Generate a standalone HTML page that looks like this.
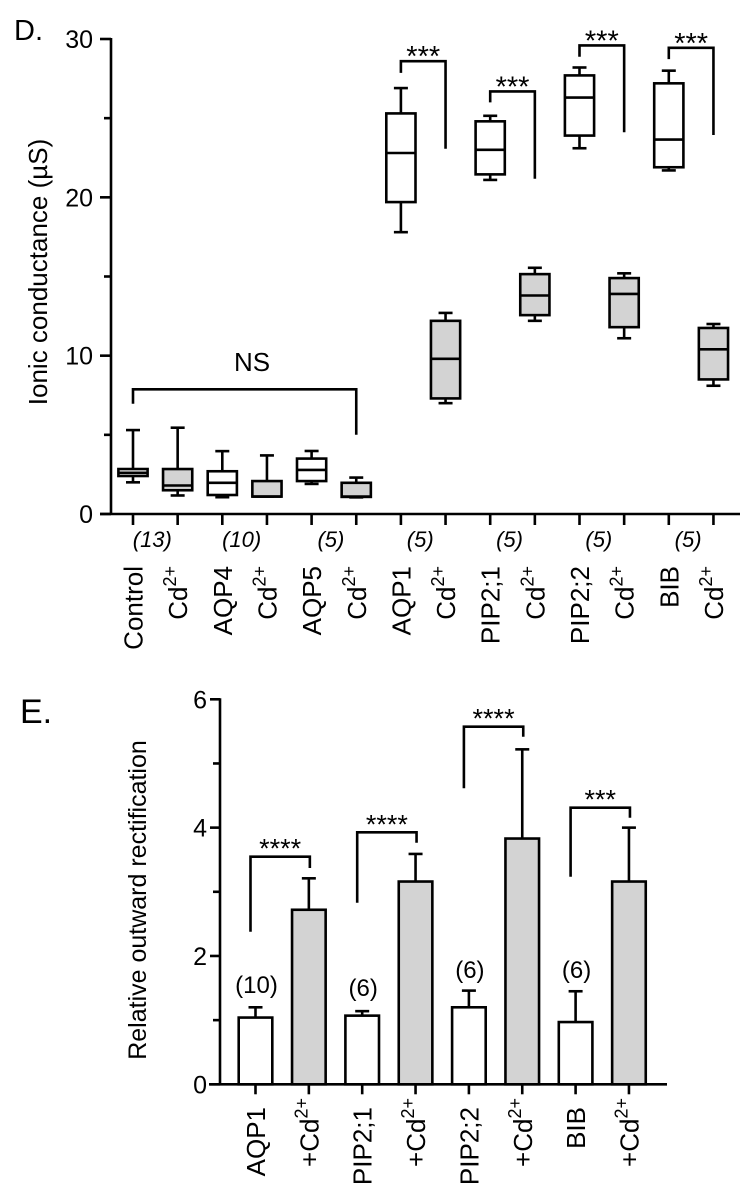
<!DOCTYPE html>
<html><head><meta charset="utf-8">
<style>
html,body{margin:0;padding:0;background:#fff;}
svg{display:block;font-family:"Liberation Sans",Arial,sans-serif;}
</style></head>
<body>
<svg id="fig" width="751" height="1197" viewBox="0 0 751 1197" xmlns="http://www.w3.org/2000/svg">
<g id="panelD"></g>
<g id="panelE"></g>
</svg>
<script>
// ---- Panel D data ----
const dCategories = ["Control","Cd2+","AQP4","Cd2+","AQP5","Cd2+","AQP1","Cd2+","PIP2;1","Cd2+","PIP2;2","Cd2+","BIB","Cd2+"];
const dWhiskerLow = [2.0,1.17,1.06,1.1,1.9,1.05,17.8,7.0,21.1,12.2,23.1,11.1,21.7,8.1];
const dQ1 =        [2.4,1.5,1.2,1.1,2.08,1.08,19.7,7.3,21.45,12.56,23.9,11.8,21.9,8.5];
const dMedian =    [2.6,1.8,1.97,1.1,2.78,1.1,22.8,9.8,23.0,13.8,26.3,13.9,23.65,10.4];
const dQ3 =        [2.84,2.84,2.7,2.08,3.5,1.97,25.3,12.2,24.8,15.15,27.7,14.9,27.2,11.75];
const dWhiskerHigh=[5.3,5.45,3.97,3.7,3.98,2.3,26.9,12.7,25.15,15.55,28.2,15.2,28.0,12.0];
const dFilled =    [0,1,0,1,0,1,0,1,0,1,0,1,0,1];
const dNLabels = ["(13)","(10)","(5)","(5)","(5)","(5)","(5)"];
const dYTicks = [0,10,20,30];
const dYMinor = [5,15,25];
// ---- Panel E data ----
const eCategories = ["AQP1","+Cd2+","PIP2;1","+Cd2+","PIP2;2","+Cd2+","BIB","+Cd2+"];
const eMeans = [1.04,2.72,1.07,3.16,1.2,3.83,0.97,3.16];
const eErrTop = [1.2,3.21,1.14,3.59,1.46,5.22,1.45,4.0];
const eFilled = [0,1,0,1,0,1,0,1];
const eNLabels = ["(10)","(6)","(6)","(6)"];
const eYTicks = [0,2,4,6];
const eYMinor = [1,3,5];
const eSig = ["****","****","****","***"];

const NS="http://www.w3.org/2000/svg";
function mk(parent,tag,attrs,text){const e=document.createElementNS(NS,tag);for(const k in attrs)e.setAttribute(k,attrs[k]);if(text!==undefined)e.textContent=text;parent.appendChild(e);return e;}
const LW=2.6;

// ===== Panel D =====
const D=document.getElementById('panelD');
const dY0=514, dY30=39;
function dy(v){return dY0+(dY30-dY0)*v/30;}
function dx(i){return 133+44.65*i;}
let t;
t=mk(D,'text',{x:14,y:40,'font-size':29},'D.');


let ax=mk(D,'line',{x1:111,y1:dY30-1,x2:111,y2:dY0,stroke:'#000','stroke-width':LW});


ax=mk(D,'line',{x1:100,y1:dY0,x2:740,y2:dY0,stroke:'#000','stroke-width':LW});


dYTicks.forEach(v=>{
  mk(D,'line',{x1:100,y1:dy(v),x2:111,y2:dy(v),stroke:'#000','stroke-width':LW});
  t=mk(D,'text',{x:93,y:dy(v)+9,'font-size':25,'text-anchor':'end'},String(v));
  
  
});
dYMinor.forEach(v=>{mk(D,'line',{x1:104,y1:dy(v),x2:111,y2:dy(v),stroke:'#000','stroke-width':LW});});
t=mk(D,'text',{x:0,y:0,'font-size':26,'text-anchor':'middle',transform:'translate(47,272) rotate(-90)'},'Ionic conductance (\u00b5S)');


dCategories.forEach((c,i)=>{
  const x=dx(i), hw=14.6;
  mk(D,'line',{x1:x,y1:dY0,x2:x,y2:dY0+11,stroke:'#000','stroke-width':LW});
  const g=mk(D,'g',{});
  
  
  mk(g,'line',{x1:x,y1:dy(dWhiskerHigh[i]),x2:x,y2:dy(dWhiskerLow[i]),stroke:'#000','stroke-width':LW});
  mk(g,'line',{x1:x-7,y1:dy(dWhiskerHigh[i]),x2:x+7,y2:dy(dWhiskerHigh[i]),stroke:'#000','stroke-width':LW});
  mk(g,'line',{x1:x-7,y1:dy(dWhiskerLow[i]),x2:x+7,y2:dy(dWhiskerLow[i]),stroke:'#000','stroke-width':LW});
  mk(g,'rect',{x:x-hw,y:dy(dQ3[i]),width:2*hw,height:Math.max(dy(dQ1[i])-dy(dQ3[i]),1),fill:dFilled[i]?'#d3d3d3':'#fff',stroke:'#000','stroke-width':LW});
  mk(g,'line',{x1:x-hw,y1:dy(dMedian[i]),x2:x+hw,y2:dy(dMedian[i]),stroke:'#000','stroke-width':LW});
  const lb=mk(D,'text',{'font-size':26,'text-anchor':'end',transform:'translate('+(x+9.5)+',566) rotate(-90)'});
  
  
  if(c.indexOf('Cd2+')>=0){
    mk(lb,'tspan',{},c.replace('2+',''));
    mk(lb,'tspan',{dy:-11,'font-size':18},'2+');
  } else lb.textContent=c;
});
dNLabels.forEach((n,k)=>{
  const x=(dx(2*k)+dx(2*k+1))/2-3;
  t=mk(D,'text',{x:x,y:547,'font-size':22,'font-style':'italic','text-anchor':'middle'},n);
  
  
});
let p=mk(D,'path',{d:'M'+dx(0)+' 403.8 V389.3 H'+dx(5)+' V434.7',fill:'none',stroke:'#000','stroke-width':LW});


t=mk(D,'text',{x:252,y:371,'font-size':26,'text-anchor':'middle'},'NS');


const dBr=[[61.2,72.9,148.8],[91.4,102.4,178.7],[45.4,56.7,132.3],[47.8,59.1,135]];
dBr.forEach((b,k)=>{
  const x1=dx(6+2*k), x2=dx(7+2*k);
  p=mk(D,'path',{d:'M'+x1+' '+b[1]+' V'+b[0]+' H'+x2+' V'+b[2],fill:'none',stroke:'#000','stroke-width':LW});
  
  
  t=mk(D,'text',{x:(x1+x2)/2,y:b[0]+5,'font-size':29,'text-anchor':'middle'},'***');
  
  
});

// ===== Panel E =====
const E=document.getElementById('panelE');
const eY0=1084.3, eY6=699.3;
function ey(v){return eY0+(eY6-eY0)*v/6;}
function ex(i){return 255.5+53.35*i;}
t=mk(E,'text',{x:20,y:723,'font-size':34},'E.');


ax=mk(E,'line',{x1:220,y1:eY6-1,x2:220,y2:eY0,stroke:'#000','stroke-width':LW});


ax=mk(E,'line',{x1:209,y1:eY0,x2:667,y2:eY0,stroke:'#000','stroke-width':LW});


eYTicks.forEach(v=>{
  mk(E,'line',{x1:210,y1:ey(v),x2:220,y2:ey(v),stroke:'#000','stroke-width':LW});
  t=mk(E,'text',{x:207,y:ey(v)+9,'font-size':25,'text-anchor':'end'},String(v));
  
  
});
eYMinor.forEach(v=>{mk(E,'line',{x1:213,y1:ey(v),x2:220,y2:ey(v),stroke:'#000','stroke-width':LW});});
t=mk(E,'text',{x:0,y:0,'font-size':25,'text-anchor':'middle',transform:'translate(146,900) rotate(-90)'},'Relative outward rectification');


eCategories.forEach((c,i)=>{
  const x=ex(i), hw=16.8;
  mk(E,'line',{x1:x,y1:eY0,x2:x,y2:eY0+10,stroke:'#000','stroke-width':LW});
  const g=mk(E,'g',{});
  
  
  mk(g,'line',{x1:x,y1:ey(eErrTop[i]),x2:x,y2:ey(eMeans[i]),stroke:'#000','stroke-width':LW});
  mk(g,'line',{x1:x-7,y1:ey(eErrTop[i]),x2:x+7,y2:ey(eErrTop[i]),stroke:'#000','stroke-width':LW});
  mk(g,'rect',{x:x-hw,y:ey(eMeans[i]),width:2*hw,height:eY0-ey(eMeans[i]),fill:eFilled[i]?'#d3d3d3':'#fff',stroke:'#000','stroke-width':LW});
  const lb=mk(E,'text',{'font-size':26,'text-anchor':'end',transform:'translate('+(x+9.5)+','+(c.indexOf('Cd')>=0?1098:1107)+') rotate(-90)'});
  
  
  if(c.indexOf('Cd2+')>=0){
    mk(lb,'tspan',{},c.replace('2+',''));
    mk(lb,'tspan',{dy:-11,'font-size':18},'2+');
  } else lb.textContent=c;
});
const eNY=[993,996,978,978];
eNLabels.forEach((n,k)=>{
  t=mk(E,'text',{x:ex(2*k)+1,y:eNY[k],'font-size':24,'text-anchor':'middle'},n);
  
  
});
const eBr=[[856.7,931.7,868],[832.3,902.7,842.7],[726.7,788.3,736.7],[807.7,876.7,817.7]];
eBr.forEach((b,k)=>{
  const x1=ex(2*k)-5, x2=ex(2*k+1)+1;
  p=mk(E,'path',{d:'M'+x1+' '+b[1]+' V'+b[0]+' H'+x2+' V'+b[2],fill:'none',stroke:'#000','stroke-width':LW});
  
  
  t=mk(E,'text',{x:(x1+x2)/2,y:b[0]+1,'font-size':27,'text-anchor':'middle'},eSig[k]);
  
  
});
</script>
</body></html>
